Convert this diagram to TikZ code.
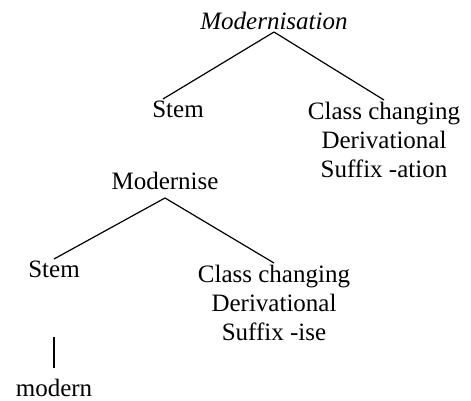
\documentclass[tikz,border=0pt]{standalone}
\usepackage{fontspec}
\setmainfont{Liberation Serif}
\usepackage{tikz}

\begin{document}
\begin{tikzpicture}[x=1pt, y=-1pt,
  every node/.style={font=\fontsize{25}{29}\selectfont, align=center,
    anchor=north, inner sep=2pt},
  branch/.style={draw, line width=1.2pt}]
  \useasboundingbox (0,0) rectangle (471,401);
  \node (root)  at (274,10)  {\itshape Modernisation};
  \node (stemA) at (178,99)  {Stem};
  \node (sufA)  at (384,100) {Class changing\\Derivational\\Suffix -ation};
  \node (mid)   at (165,170) {Modernise};
  \node (stemB) at (54,259)  {Stem};
  \node (sufB)  at (274,263) {Class changing\\Derivational\\Suffix -ise};
  \node (leaf)  at (54,377)  {modern};
  \draw[branch] (root.south) -- ([xshift=-15pt]stemA.north);
  \draw[branch] (root.south) -- (sufA.north);
  \draw[branch] ([yshift=-6pt]mid.south) -- (stemB.north);
  \draw[branch] ([yshift=-6pt]mid.south) -- (sufB.north);
  \draw[branch, shorten <=57pt, shorten >=9pt] (stemB.south) -- (leaf.north);
\end{tikzpicture}
\end{document}
